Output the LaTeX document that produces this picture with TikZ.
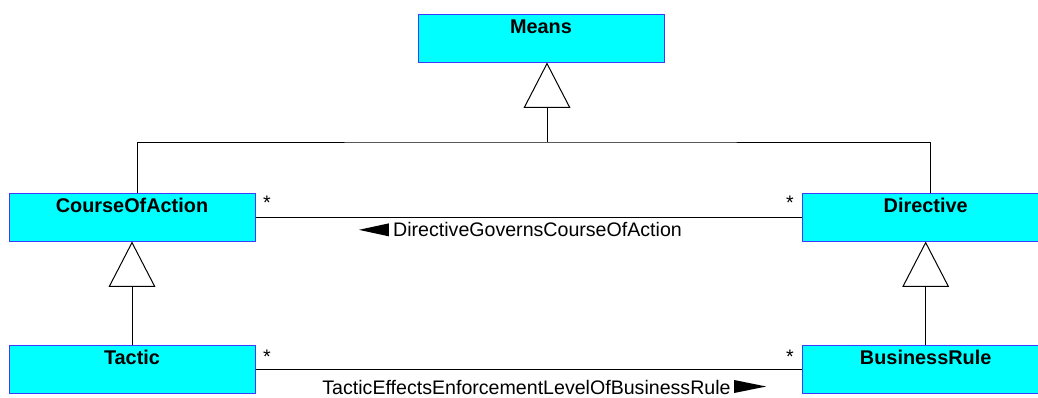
\documentclass[tikz,border=0pt]{standalone}
\usepackage{fontspec}
\setmainfont{Liberation Sans}
\usetikzlibrary{positioning,arrows.meta}
\definecolor{clsedge}{RGB}{60,60,255}
\definecolor{clsfill}{RGB}{0,255,255}

\begin{document}
\begin{tikzpicture}[x=0.75pt,y=-0.75pt,
    cls/.style={rectangle,draw=clsedge,fill=clsfill,line width=0.75pt,inner sep=0pt,
      minimum width=184.5pt,text height=14.25pt,text depth=21.75pt,
      font=\fontsize{14.9}{16}\selectfont\bfseries},
    gen/.style={line width=0.75pt,-{Triangle[open,length=34pt,width=35pt]}},
    plain/.style={line width=0.75pt},
    mult/.style={inner sep=0pt,anchor=base,font=\fontsize{14.7}{16}\selectfont},
    asname/.style={inner sep=0pt,anchor=base,font=\fontsize{14.7}{16}\selectfont}]
                \useasboundingbox (0,0) rectangle (1038,397);

                \path (541,38) node[cls] (means) {Means};
                \path (132,217) node[cls] (coa) {CourseOfAction};
                \node[cls,right=410pt of coa] (dir) {Directive};
                \node[cls,below=77.5pt of coa] (tac) {Tactic};
                \node[cls,below=77.5pt of dir] (br) {BusinessRule};

                % generalisations
                \coordinate (j) at (547,142);
                \draw[gen] (j) -- ([xshift=4.5pt]means.south);
                \draw[plain] ([xshift=3.75pt]coa.north) |- (j) -| ([xshift=3.75pt]dir.north);
                \draw[gen] (tac) -- (coa);
                \draw[gen] (br) -- (dir);

                % associations
                \draw[plain] (coa.east) -- (dir.west);
                \draw[plain] (tac.east) -- (br.west);
                \node[mult] at (267,209) (m1) {*};
                \node[mult] at (790,209) (m2) {*};
                \node[mult] at (267,363) (m3) {*};
                \node[mult] at (790,363) (m4) {*};

                \node[asname] at (537.5,236.5) (govlbl) {DirectiveGovernsCourseOfAction};
                \fill ([xshift=-3pt,yshift=5pt]govlbl.base west) ++(0,-6.5) -- ++(0,13) -- ++(-30,-6.5) -- cycle;
                \node[asname] at (526.5,394.5) (efflbl) {TacticEffectsEnforcementLevelOfBusinessRule};
                \fill ([xshift=2.5pt,yshift=6pt]efflbl.base east) ++(0,-6.5) -- ++(0,13) -- ++(32,-6.5) -- cycle;
              \end{tikzpicture}
\end{document}
